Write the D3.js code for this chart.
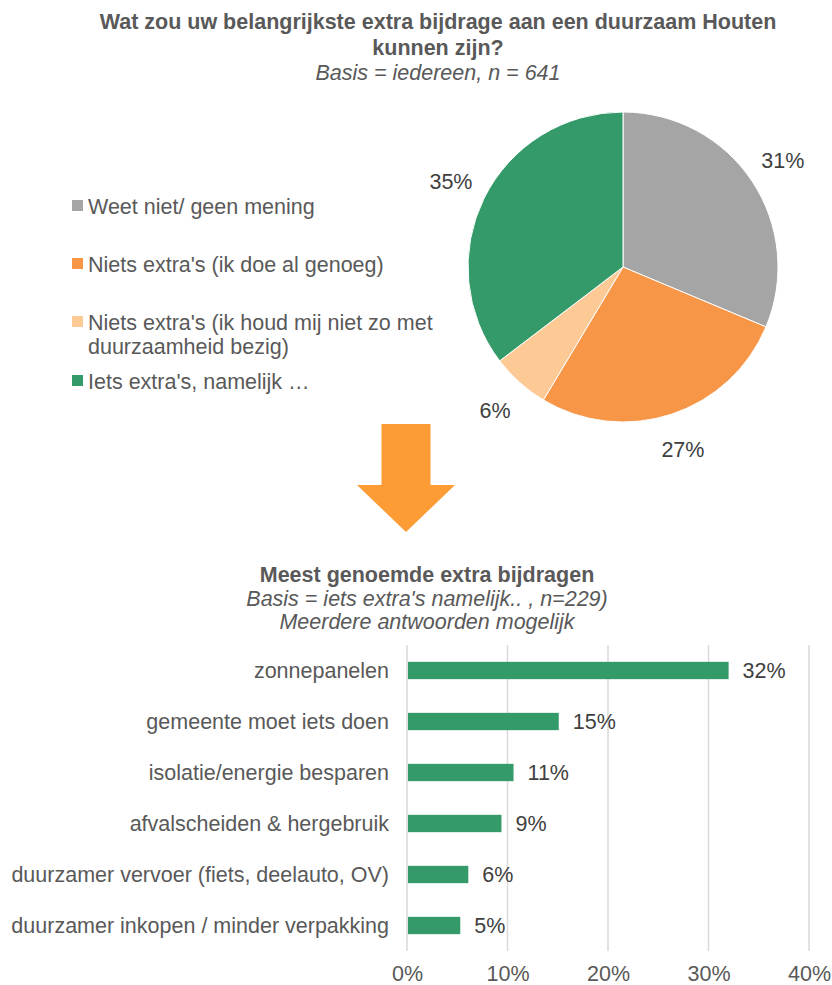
<!DOCTYPE html>
<html><head><meta charset="utf-8">
<script src="https://cdn.jsdelivr.net/npm/d3@7"></script>
<style>body{margin:0;background:#fff}text{font-family:"Liberation Sans",Arial,sans-serif}</style>
</head><body>
<svg id="c" width="832" height="985"></svg>
<script>
// Pie data
const pieCategories = ["Weet niet/ geen mening","Niets extra's (ik doe al genoeg)","Niets extra's (ik houd mij niet zo met duurzaamheid bezig)","Iets extra's, namelijk …"];
const pieValues = [31, 27, 6, 35];
const pieColors = ["#A5A5A5","#F79646","#FDCA96","#359A69"];
// Bar data
const barCategories = ["zonnepanelen","gemeente moet iets doen","isolatie/energie besparen","afvalscheiden & hergebruik","duurzamer vervoer (fiets, deelauto, OV)","duurzamer inkopen / minder verpakking"];
const barValues = [0.32, 0.151, 0.106, 0.094, 0.061, 0.053];
const barTicks = [0, 0.1, 0.2, 0.3, 0.4];

const svg = d3.select("#c");
const txt = "#595959";
const FS = 21.5;

// Titles
svg.append("text").attr("x",438).attr("y",29).attr("text-anchor","middle").attr("font-size",FS).attr("font-weight","bold").attr("fill",txt)
  .text("Wat zou uw belangrijkste extra bijdrage aan een duurzaam Houten");
svg.append("text").attr("x",438).attr("y",55).attr("text-anchor","middle").attr("font-size",FS).attr("font-weight","bold").attr("fill",txt)
  .text("kunnen zijn?");
svg.append("text").attr("x",438).attr("y",80).attr("text-anchor","middle").attr("font-size",FS).attr("font-style","italic").attr("fill",txt)
  .text("Basis = iedereen, n = 641");

// Pie
const cx = 623, cy = 267, R = 155;
const pie = d3.pie().sort(null).value(d => d)(pieValues);
const arc = d3.arc().innerRadius(0).outerRadius(R);
const labelArc = d3.arc().innerRadius(192).outerRadius(192);
const g = svg.append("g").attr("transform", `translate(${cx},${cy})`);
g.selectAll("path").data(pie).enter().append("path")
  .attr("d", arc).attr("fill", (d,i) => pieColors[i]).attr("stroke","#fff").attr("stroke-width",1);
g.selectAll("text.pl").data(pie).enter().append("text").attr("class","pl")
  .attr("transform", d => `translate(${labelArc.centroid(d)})`)
  .attr("text-anchor","middle").attr("dy","0.35em").attr("font-size",FS).attr("fill","#404040")
  .text(d => d.value + "%");

// Legend
const legendRows = [
  {lines:[pieCategories[0]], y:206},
  {lines:[pieCategories[1]], y:264},
  {lines:["Niets extra's (ik houd mij niet zo met","duurzaamheid bezig)"], y:322},
  {lines:[pieCategories[3]], y:381}
];
legendRows.forEach((r,i) => {
  svg.append("rect").attr("x",72).attr("y",r.y-6).attr("width",11).attr("height",11).attr("fill",pieColors[i]);
  r.lines.forEach((l,j) => {
    svg.append("text").attr("x",88).attr("y",r.y + j*24).attr("dy","0.35em").attr("font-size",FS).attr("fill",txt).text(l);
  });
});

// Arrow
const ax = 406;
svg.append("path").attr("fill","#FD9B35")
  .attr("d", `M${ax-24.5},424 L${ax+24.5},424 L${ax+24.5},485 L${ax+49},485 L${ax},532 L${ax-49},485 L${ax-24.5},485 Z`);

// Bar chart titles
svg.append("text").attr("x",427).attr("y",582).attr("text-anchor","middle").attr("font-size",FS).attr("font-weight","bold").attr("fill",txt)
  .text("Meest genoemde extra bijdragen");
svg.append("text").attr("x",427).attr("y",606).attr("text-anchor","middle").attr("font-size",FS).attr("font-style","italic").attr("fill",txt)
  .text("Basis = iets extra's namelijk.. , n=229)");
svg.append("text").attr("x",427).attr("y",629).attr("text-anchor","middle").attr("font-size",FS).attr("font-style","italic").attr("fill",txt)
  .text("Meerdere antwoorden mogelijk");

// Bars
const x = d3.scaleLinear().domain([0,0.4]).range([407,809]);
const y = d3.scaleBand().domain(barCategories).range([645,951]).paddingInner(0.66).paddingOuter(0.33);
const grid = svg.append("g");
grid.selectAll("line").data(barTicks).enter().append("line")
  .attr("x1", d => x(d)).attr("x2", d => x(d)).attr("y1",645).attr("y2",951)
  .attr("stroke","#D9D9D9").attr("stroke-width",1.5);
const xAxis = svg.append("g").attr("transform","translate(0,951)")
  .call(d3.axisBottom(x).tickValues(barTicks).tickFormat(d3.format(".0%")).tickSize(0).tickPadding(15));
xAxis.select(".domain").remove();
xAxis.selectAll("text").attr("font-size",FS).attr("fill",txt).attr("font-family","Liberation Sans, Arial, sans-serif");

svg.selectAll("rect.bar").data(barValues).enter().append("rect").attr("class","bar")
  .attr("x", x(0)+1).attr("y",(d,i) => y(barCategories[i]))
  .attr("width", d => x(d)-x(0)-1).attr("height", y.bandwidth()).attr("fill","#359A69");
svg.selectAll("text.val").data(barValues).enter().append("text").attr("class","val")
  .attr("x", d => x(d)+14).attr("y",(d,i) => y(barCategories[i]) + y.bandwidth()/2).attr("dy","0.35em")
  .attr("font-size",FS).attr("fill","#404040").text(d => Math.round(d*100) + "%");
svg.selectAll("text.cat").data(barCategories).enter().append("text").attr("class","cat")
  .attr("x",389).attr("y", d => y(d) + y.bandwidth()/2).attr("dy","0.35em").attr("text-anchor","end")
  .attr("font-size",FS).attr("fill",txt).text(d => d);
</script>
</body></html>
